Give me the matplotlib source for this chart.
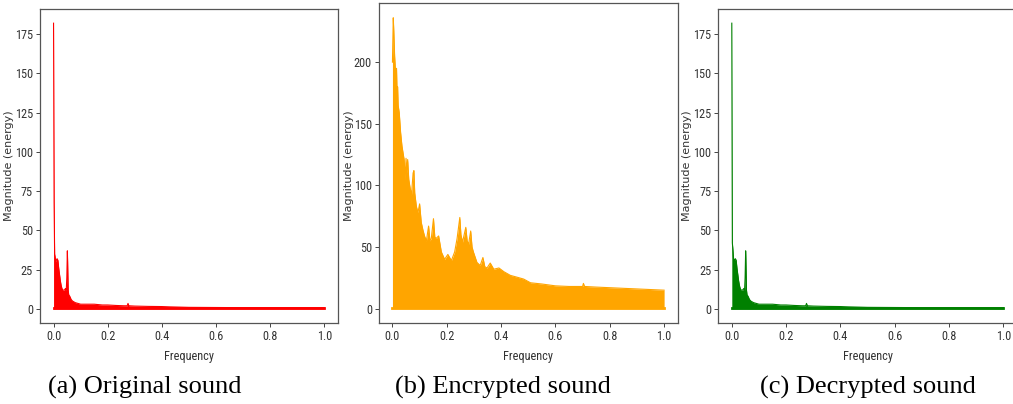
import matplotlib
matplotlib.use("Agg")
from matplotlib import pyplot as plt
from matplotlib import font_manager

# Spectrum envelopes (frequency, peak magnitude)
freq_orig = [0.0, 0.001, 0.002, 0.004, 0.006, 0.008, 0.010, 0.013, 0.016, 0.019, 0.022,
             0.025, 0.028, 0.031, 0.034, 0.037, 0.040, 0.044, 0.047, 0.049, 0.051, 0.052,
             0.054, 0.056, 0.060, 0.065, 0.070, 0.080, 0.090, 0.100, 0.120, 0.150, 0.180,
             0.200, 0.230, 0.260, 0.272, 0.275, 0.278, 0.300, 0.350, 0.400, 0.430, 0.500,
             0.600, 0.700, 0.800, 0.900, 1.0]
mag_orig = [182, 120, 68, 35, 33, 30, 31, 32, 31, 26, 22,
            18, 15, 13, 12, 12, 12, 13, 12, 20, 37, 30,
            12, 9, 8, 6, 5, 4, 3.5, 3, 3, 3, 2.5,
            2.5, 2.2, 2, 2, 3.5, 2, 1.8, 1.6, 1.5, 1.3, 1.0,
            0.9, 0.8, 0.8, 0.8, 0.8]

freq_enc = [0.0, 0.003, 0.005, 0.008, 0.012, 0.015, 0.017, 0.019, 0.021, 0.025, 0.030,
            0.035, 0.040, 0.043, 0.047, 0.050, 0.053, 0.056, 0.060, 0.065, 0.070, 0.076,
            0.079, 0.082, 0.088, 0.094, 0.100, 0.106, 0.112, 0.118, 0.125, 0.133, 0.138,
            0.143, 0.151, 0.156, 0.161, 0.170, 0.180, 0.192, 0.204, 0.217, 0.229, 0.238,
            0.248, 0.252, 0.258, 0.264, 0.270, 0.275, 0.280, 0.288, 0.293, 0.298, 0.311,
            0.323, 0.333, 0.340, 0.348, 0.360, 0.373, 0.392, 0.410, 0.434, 0.459, 0.483,
            0.508, 0.550, 0.600, 0.650, 0.700, 0.703, 0.707, 0.750, 0.800, 0.850, 0.900,
            0.950, 1.0]
mag_enc = [200, 236, 225, 205, 190, 195, 175, 180, 165, 159, 143,
           132, 125, 121, 105, 122, 110, 121, 105, 98, 92, 110,
           112, 94, 83, 78, 85, 70, 64, 59, 55, 67, 55,
           57, 73, 58, 57, 59, 46, 40, 44, 39, 46, 57,
           74, 60, 54, 60, 66, 55, 52, 63, 50, 46, 37.5,
           35, 41.5, 34, 33, 37, 32, 33, 30, 27, 25.5, 24,
           21, 20, 18.5, 18, 18, 20.5, 18, 17.5, 17, 16.5, 16,
           15.5, 15]

freq_dec = [0.0, 0.001, 0.002, 0.004, 0.006, 0.008, 0.010, 0.013, 0.016, 0.019, 0.022,
            0.025, 0.028, 0.031, 0.034, 0.037, 0.040, 0.044, 0.047, 0.049, 0.051, 0.052,
            0.054, 0.056, 0.060, 0.065, 0.070, 0.080, 0.090, 0.100, 0.120, 0.150, 0.180,
            0.200, 0.230, 0.260, 0.272, 0.275, 0.278, 0.300, 0.350, 0.400, 0.430, 0.500,
            0.600, 0.700, 0.800, 0.900, 1.0]
mag_dec = [182, 110, 42, 38, 33, 30, 31, 32, 31, 26, 22,
           18, 15, 13, 12, 12, 12, 13, 12, 20, 37, 30,
           12, 9, 8, 6, 5, 4, 3.5, 3, 3, 3, 2.5,
           2.5, 2.2, 2, 2, 3.5, 2, 1.8, 1.6, 1.5, 1.3, 1.0,
           0.9, 0.8, 0.8, 0.8, 0.8]

captions = ["(a) Original sound", "(b) Encrypted sound", "(c) Decrypted sound"]
colours = ["red", "orange", "green"]

# pick a narrow face for horizontal labels if one is installed
names = set(f.name for f in font_manager.fontManager.ttflist)
narrow_fam = "DejaVu Sans"
narrow_stretch = "normal"
for cand in ["Liberation Sans Narrow", "Roboto Condensed", "Open Sans Condensed",
             "Noto Sans Condensed", "DejaVu Sans Condensed"]:
    if cand in names:
        narrow_fam = cand
        break
else:
    if any(f.name == "DejaVu Sans" and f.stretch == "condensed"
           for f in font_manager.fontManager.ttflist):
        narrow_stretch = "condensed"
tick_size = 8.8 if (narrow_fam != "DejaVu Sans" or narrow_stretch != "normal") else 7

fig = plt.figure(figsize=(10.13, 4.04), dpi=100)

# axes boxes in figure fractions
boxes = [[0.0395, 0.200, 0.294, 0.778],
         [0.374, 0.200, 0.295, 0.792],
         [0.709, 0.200, 0.295, 0.778]]
caption_x = [0.143, 0.496, 0.857]
ylabel_x = [0.009, 0.345, 0.678]

series = [(freq_orig, mag_orig), (freq_enc, mag_enc), (freq_dec, mag_dec)]

for i, (f, m) in enumerate(series):
    ax = fig.add_axes(boxes[i])
    ax.fill_between(f, 0, m, color=colours[i], linewidth=0)
    ax.plot(f, m, color=colours[i], linewidth=0.8)
    ax.plot(f, [0.3] * len(f), color=colours[i], linewidth=2.0)
    ax.margins(x=0.05, y=0.05)
    ax.set_xticks([0.0, 0.2, 0.4, 0.6, 0.8, 1.0])
    if i == 1:
        ax.set_yticks([0, 50, 100, 150, 200])
    else:
        ax.set_yticks([0, 25, 50, 75, 100, 125, 150, 175])
    for lab in ax.get_xticklabels() + ax.get_yticklabels():
        lab.set_family(narrow_fam)
        lab.set_stretch(narrow_stretch)
        lab.set_fontsize(tick_size)
        lab.set_color("#333333")
    ax.tick_params(length=3, width=0.7, color="#444444", pad=2)
    for s in ax.spines.values():
        s.set_color("#555555")
        s.set_linewidth(0.9)
    ax.set_xlabel("Frequency", family=narrow_fam, fontstretch=narrow_stretch,
                  fontsize=tick_size, color="#333333", labelpad=5)
    fig.text(ylabel_x[i], 0.59, "Magnitude (energy)", rotation=90, fontsize=8,
             color="#333333", ha="center", va="center")
    fig.text(caption_x[i], 0.042, captions[i], family="Liberation Serif", fontsize=19,
             ha="center", va="center")

plt.savefig("out.png", dpi=100)
